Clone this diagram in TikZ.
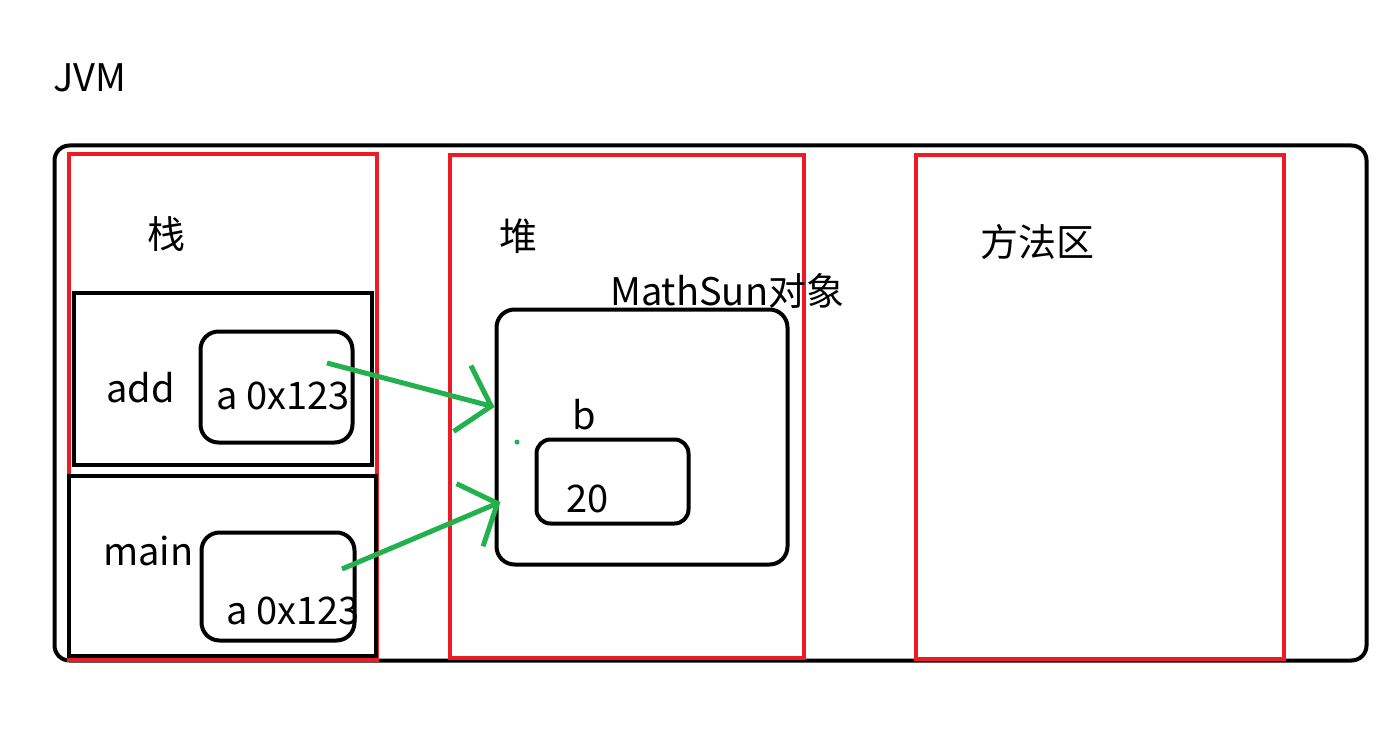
\documentclass[tikz,border=0pt]{standalone}
\usepackage{fontspec}
\usepackage{xcolor}
\usepackage{tikz}
\usetikzlibrary{arrows.meta}
\newfontfamily\cjk{Noto Sans CJK SC}
\definecolor{areared}{HTML}{ED1C24}
\definecolor{refgreen}{HTML}{22B14C}

\begin{document}
\begin{tikzpicture}[
        x=1pt, y=-1pt,
        frame/.style={rectangle, draw=black, line width=4pt, inner sep=0pt},
        roundbox/.style={frame, rounded corners=#1},
        area/.style={rectangle, draw=areared, line width=4pt, inner sep=0pt},
        lbl/.style={font=\cjk\fontsize{38}{44}\selectfont, inner sep=0pt, anchor=base west},
        ref/.style={-{Straight Barb[length=30pt, width=68pt]}, line width=5pt, draw=refgreen}
    ]
        \useasboundingbox (0,0) rectangle (1392,749);
        % JVM and its three areas
        \node[roundbox=15pt, minimum width=1312pt, minimum height=515pt] (jvm) at (710.5,403) {};
        \node[area, minimum width=308pt, minimum height=505pt] (stack) at (222.5,407) {};
        \node[area, minimum width=354pt, minimum height=502pt] (heap) at (626.5,406.5) {};
        \node[area, minimum width=368pt, minimum height=503pt] (method) at (1099.5,407) {};
        % stack frames
        \node[frame, minimum width=298pt, minimum height=172pt] (addframe) at (222.5,378.5) {};
        \node[frame, minimum width=307pt, minimum height=180pt] (mainframe) at (222,565.5) {};
        \node[roundbox=18pt, minimum width=152pt, minimum height=111pt] (addvar) at (276.5,387) {};
        \node[roundbox=18pt, minimum width=153pt, minimum height=108pt] (mainvar) at (278,586.5) {};
        % object in the heap
        \node[roundbox=18pt, minimum width=291pt, minimum height=255pt] (obj) at (642,437) {};
        \node[roundbox=14pt, minimum width=152pt, minimum height=84pt] (bval) at (612.5,481.5) {};

        \node[lbl] (jvmlbl) at (53,92) {JVM};
        \node[lbl] (stacklbl) at (147,248) {栈};
        \node[lbl] (heaplbl) at (499,250) {堆};
        \node[lbl] (methodlbl) at (980,256) {方法区};
        \node[lbl] (objlbl) at (610,305) {MathSun对象};
        \node[lbl] (addlbl) at (106,402) {add};
        \node[lbl] (addvarlbl) at (216,409) {a 0x123};
        \node[lbl] (mainlbl) at (103,565) {main};
        \node[lbl] (mainvarlbl) at (226,624) {a 0x123};
        \node[lbl] (blbl) at (572,429) {b};
        \node[lbl] (bvallbl) at (566,512) {20};

        % references
        \coordinate (addref) at (327,363);
        \coordinate (mainref) at (342,569);
        \draw[ref] (addref) -- ([yshift=30pt]obj.west);
        \draw[ref] (mainref) -- ([xshift=6pt, yshift=-65pt]obj.west);
        \fill[refgreen] (517,442) circle (2.5pt);
    \end{tikzpicture}
\end{document}
